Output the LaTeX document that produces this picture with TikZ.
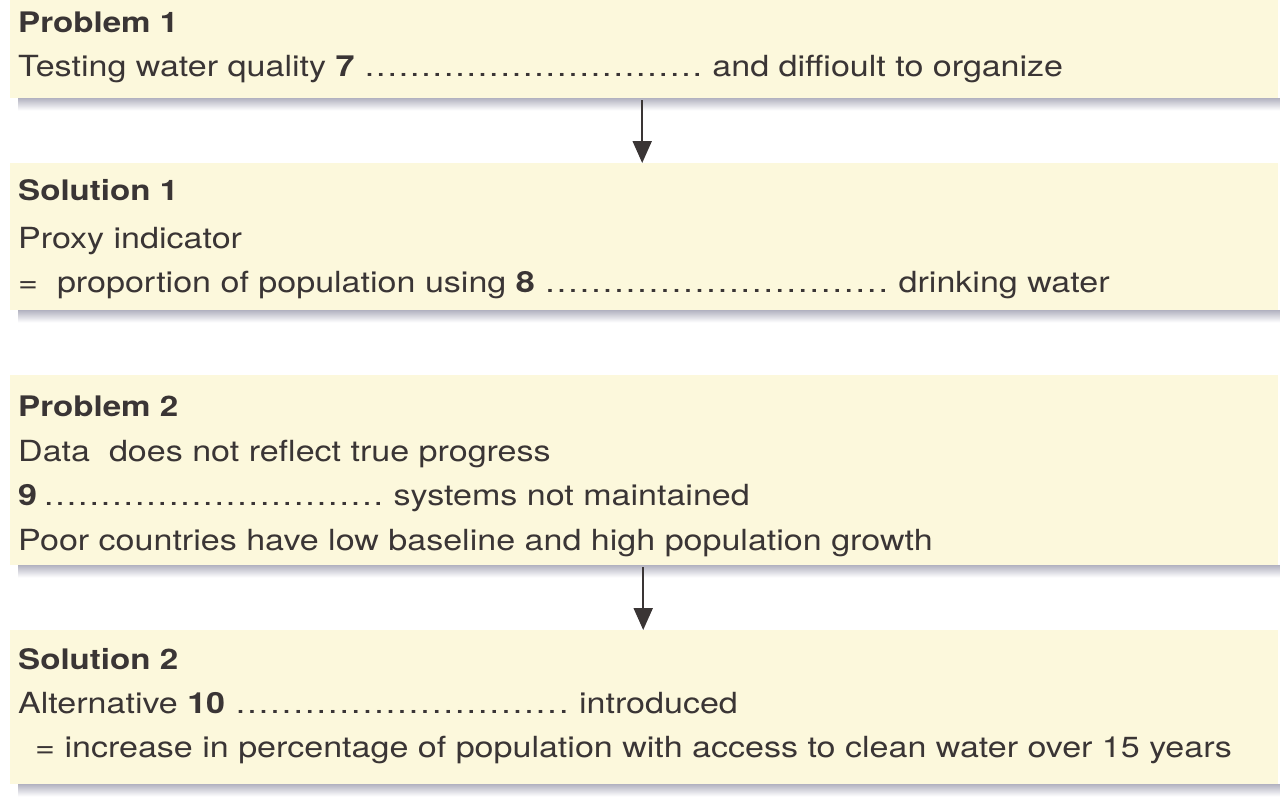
\documentclass[tikz,border=0pt]{standalone}
\usepackage{fontspec}
\setmainfont{TeX Gyre Heros}[FakeStretch=1.17]
\usetikzlibrary{arrows.meta}
\definecolor{boxfill}{HTML}{FCF8DC}
\definecolor{txt}{HTML}{3A3535}
\definecolor{shadowc}{HTML}{B4B4C2}
\newcommand{\gapdots}[1]{\hbox to #1pt{\xleaders\hbox to 11.3pt{\hss.\hss}\hfill}}
\tikzset{
  panel/.style={fill=boxfill, draw=none, anchor=north west, minimum width=1268pt, inner sep=0pt},
  line/.style={anchor=base west, inner sep=0pt, text=txt, font=\fontsize{29.1pt}{34pt}\selectfont},
  head/.style={anchor=base west, inner sep=0pt, text=txt, font=\fontsize{28.3pt}{33pt}\selectfont\bfseries},
  arr/.style={draw=txt, line width=2pt, -{Triangle[length=22pt,width=19pt]}},
}
\begin{document}
\begin{tikzpicture}[x=1pt,y=-1pt]
\useasboundingbox[fill=white] (0,0) rectangle (1280,800);
% panels
\node[panel, minimum height=98pt] (p1) at (10,0) {};
\node[panel, minimum height=147pt] (s1) at (10,163) {};
\node[panel, minimum height=190pt] (p2) at (10,375) {};
\node[panel, minimum height=154pt] (s2) at (10,630) {};
% shadows
\foreach \b in {p1,s1,p2,s2}{
  \shade[top color=shadowc, bottom color=white] ([xshift=8pt]\b.south west) rectangle ([xshift=2pt,yshift=-12pt]\b.south east);
}
% texts
\node[head] (p1h) at (18,33) {Problem 1};
\node[line] (p1a) at (18,77) {Testing water quality \textbf{7} \gapdots{339} and diffioult to organize};

\node[head] (s1h) at (18,200) {Solution 1};
\node[line] (s1a) at (18,248) {Proxy indicator};
\node[line] (s1b) at (18,292) {=\ \ proportion of population using \textbf{8} \gapdots{345} drinking water};

\node[head] (p2h) at (18,416) {Problem 2};
\node[line] (p2a) at (18,461) {Data\ \ does not reflect true progress};
\node[line] (p2b) at (18,505) {\textbf{9}\hspace{6pt}\gapdots{341} systems not maintained};
\node[line] (p2c) at (18,550) {Poor countries have low baseline and high population growth};

\node[head] (s2h) at (18,669) {Solution 2};
\node[line] (s2a) at (18,713) {Alternative \textbf{10} \gapdots{335} introduced};
\node[line] (s2b) at (35,757) {= increase in percentage of population with access to clean water over 15 years};
% arrows
\draw[arr] ([xshift=-2pt,yshift=-2pt]p1.south) -- ([xshift=-2pt]s1.north);
\draw[arr] ([xshift=-1pt,yshift=-2pt]p2.south) -- ([xshift=-1pt]s2.north);
\end{tikzpicture}
\end{document}
